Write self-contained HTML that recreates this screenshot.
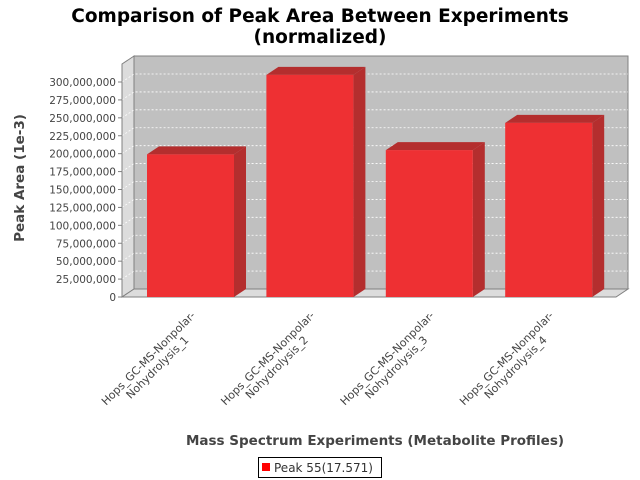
<!DOCTYPE html>
<html><head><meta charset="utf-8"><style>
body{margin:0;background:#fff;}
svg{display:block;font-family:"DejaVu Sans","Liberation Sans",sans-serif;}
</style></head><body>
<svg id="chart" width="640" height="480">
<text x="320" y="22" text-anchor="middle" font-weight="bold" font-size="18.5">Comparison of Peak Area Between Experiments</text>
<text x="320" y="43" text-anchor="middle" font-weight="bold" font-size="18.5">(normalized)</text>
<g id="plot"></g>
<text transform="translate(24,178) rotate(-90)" text-anchor="middle" font-weight="bold" font-size="13.5" fill="#444">Peak Area (1e-3)</text>
<text x="375" y="445" text-anchor="middle" font-weight="bold" font-size="13.5" fill="#444">Mass Spectrum Experiments (Metabolite Profiles)</text>
<g>
<rect x="258.5" y="457.5" width="123" height="20" fill="#fff" stroke="#000"/>
<rect x="262" y="463" width="8" height="8" fill="#f00"/>
<text x="274" y="472" font-size="12" fill="#333">Peak 55(17.571)</text>
</g>
</svg>
<script>
const categories = ["Hops_GC-MS-Nonpolar-|Nohydrolysis_1","Hops_GC-MS-Nonpolar-|Nohydrolysis_2","Hops_GC-MS-Nonpolar-|Nohydrolysis_3","Hops_GC-MS-Nonpolar-|Nohydrolysis_4"];
const values = [199000000, 310000000, 205000000, 243000000];
const yTicks = [0,25000000,50000000,75000000,100000000,125000000,150000000,175000000,200000000,225000000,250000000,275000000,300000000];

const NS="http://www.w3.org/2000/svg";
const g=document.getElementById('plot');
const X0=122, X1=616, Y0=297, DX=12, DY=8, YMAX=300000000, YTOP=82;
function y(v){return Y0-(v/YMAX)*(Y0-YTOP);}
function xBand(i){return 147+i*119.4;}
const BW=87;
function mk(tag,attrs){const e=document.createElementNS(NS,tag);for(const k in attrs)e.setAttribute(k,attrs[k]);g.appendChild(e);return e;}
let e;
e=mk('polygon',{points:`${X0},${Y0} ${X0},64 ${X0+DX},56 ${X0+DX},${Y0-DY}`,fill:'#dcdcdc',stroke:'#808080'});


e=mk('polygon',{points:`${X0},${Y0} ${X0+DX},${Y0-DY} ${X1+DX},${Y0-DY} ${X1},${Y0}`,fill:'#dcdcdc',stroke:'#808080'});


e=mk('rect',{x:X0+DX,y:56,width:X1-X0,height:Y0-DY-56,fill:'#c0c0c0',stroke:'#808080'});


yTicks.forEach(t=>{
  const yy=y(t);
  if(t>0){
    e=mk('polyline',{points:`${X0},${yy} ${X0+DX},${yy-DY} ${X1+DX},${yy-DY}`,fill:'none',stroke:'#fff','stroke-dasharray':'2,2','stroke-width':0.8});
    
    
  }
  e=mk('line',{x1:X0-4,x2:X0,y1:yy,y2:yy,stroke:'#808080'});
  
  
  e=mk('text',{x:X0-6,y:yy+4,'text-anchor':'end','font-size':'10.5',fill:'#444'});
  e.textContent=t.toLocaleString('en-US');
  
  
});
e=mk('line',{x1:X0,x2:X0,y1:64,y2:Y0,stroke:'#808080'});


values.forEach((v,i)=>{
  const x=xBand(i), yt=y(v);
  e=mk('polygon',{points:`${x+BW},${Y0} ${x+BW},${yt} ${x+BW+DX},${yt-DY} ${x+BW+DX},${Y0-DY}`,fill:'#b42e2e'});
  
  
  e=mk('polygon',{points:`${x},${yt} ${x+DX},${yt-DY} ${x+BW+DX},${yt-DY} ${x+BW},${yt}`,fill:'#b42e2e'});
  
  
  e=mk('rect',{x:x,y:yt,width:BW,height:Y0-yt,fill:'#ee3033'});
  
  
  const cx=x+BW/2, parts=categories[i].split('|');
  parts.forEach((p,j)=>{
    const tx=cx-39.5+j*9, ty=361+j*9;
    e=mk('text',{x:tx,y:ty,'text-anchor':'middle','font-size':'11',fill:'#444',transform:`rotate(-45 ${tx} ${ty})`});
    e.textContent=p;
    
    
  });
});
</script>
</body></html>
